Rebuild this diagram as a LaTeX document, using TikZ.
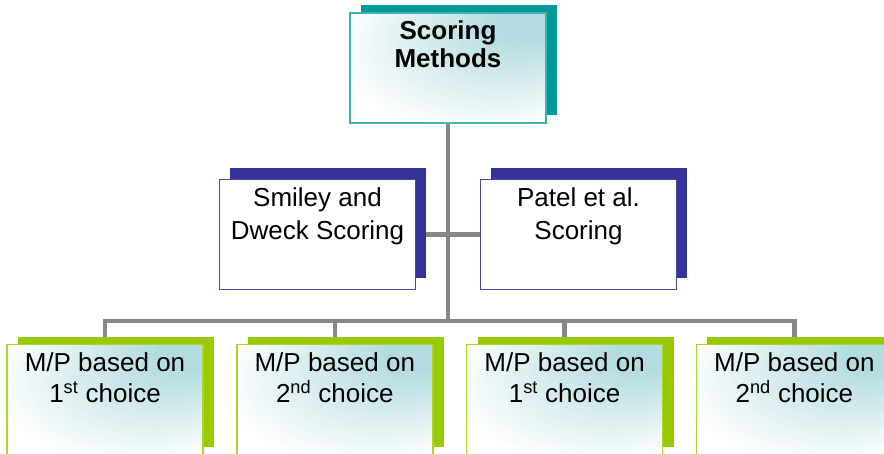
\documentclass[tikz,border=0pt]{standalone}
\usepackage{fontspec}
\setmainfont{Liberation Sans}
\usetikzlibrary{positioning,shadows,backgrounds}
\definecolor{TealShade}{HTML}{009999}
\definecolor{TealEdge}{HTML}{3DB3B3}
\definecolor{NavyShade}{HTML}{333399}
\definecolor{NavyEdge}{HTML}{4A4AA6}
\definecolor{LimeShade}{HTML}{99CC00}
\definecolor{LimeEdge}{HTML}{A8D42E}
\definecolor{GlowTeal}{HTML}{B4DCE0}
\definecolor{LinkGray}{HTML}{878787}
% light glow from the upper right corner
\pgfdeclareradialshading{cornerglow}{\pgfpoint{25bp}{25bp}}{color(0bp)=(GlowTeal); color(8bp)=(GlowTeal); color(36bp)=(white); color(50bp)=(white)}

\newcommand{\cardtext}[1]{\parbox[t][94pt][t]{180pt}{\centering #1}}

\begin{document}
\begin{tikzpicture}[
  x=1pt, y=1pt,
  font=\fontsize{26}{31}\selectfont,
  card/.style={rectangle, inner sep=8pt, minimum width=196pt, minimum height=110pt},
  glow/.style={shading=cornerglow},
  headcard/.style={card, glow, draw=TealEdge, line width=1.5pt, font=\fontsize{26}{28}\selectfont\bfseries,
    general shadow={fill=TealShade, shadow xshift=11pt, shadow yshift=8pt}},
  methodcard/.style={card, draw=NavyEdge, line width=1pt, fill=white,
    general shadow={fill=NavyShade, shadow xshift=10pt, shadow yshift=11pt}},
  choicecard/.style={card, glow, draw=LimeEdge, line width=1.5pt,
    general shadow={fill=LimeShade, shadow xshift=11pt, shadow yshift=8pt}},
  link/.style={draw=LinkGray, line width=4.5pt, line join=miter}
]
\useasboundingbox (0,0) rectangle (884,-453);
\node[headcard] (top) at (448,-68) {\cardtext{Scoring\\Methods}};
\node[methodcard, below=55pt of top, xshift=-130.5pt] (smiley) {\cardtext{Smiley and\\[2pt]Dweck Scoring}};
\node[methodcard, below=55pt of top, xshift=130.5pt] (patel) {\cardtext{Patel et al.\\[2pt]Scoring}};
\node[choicecard, below=54pt of smiley, xshift=-212.5pt] (c1) {\cardtext{M/P based on\\1\textsuperscript{st} choice}};
\node[choicecard, right=32.3pt of c1] (c2) {\cardtext{M/P based on\\2\textsuperscript{nd} choice}};
\node[choicecard, right=32.3pt of c2] (c3) {\cardtext{M/P based on\\1\textsuperscript{st} choice}};
\node[choicecard, right=32.3pt of c3] (c4) {\cardtext{M/P based on\\2\textsuperscript{nd} choice}};
\coordinate[below=197pt of top.south] (bus);
\begin{scope}[on background layer]
  \draw[link] (top.south) -- (bus);
  \draw[link] (smiley) -- (patel);
  \foreach \k in {1,...,4}
    \draw[link] (bus) -| (c\k.north);
\end{scope}
\end{tikzpicture}
\end{document}
